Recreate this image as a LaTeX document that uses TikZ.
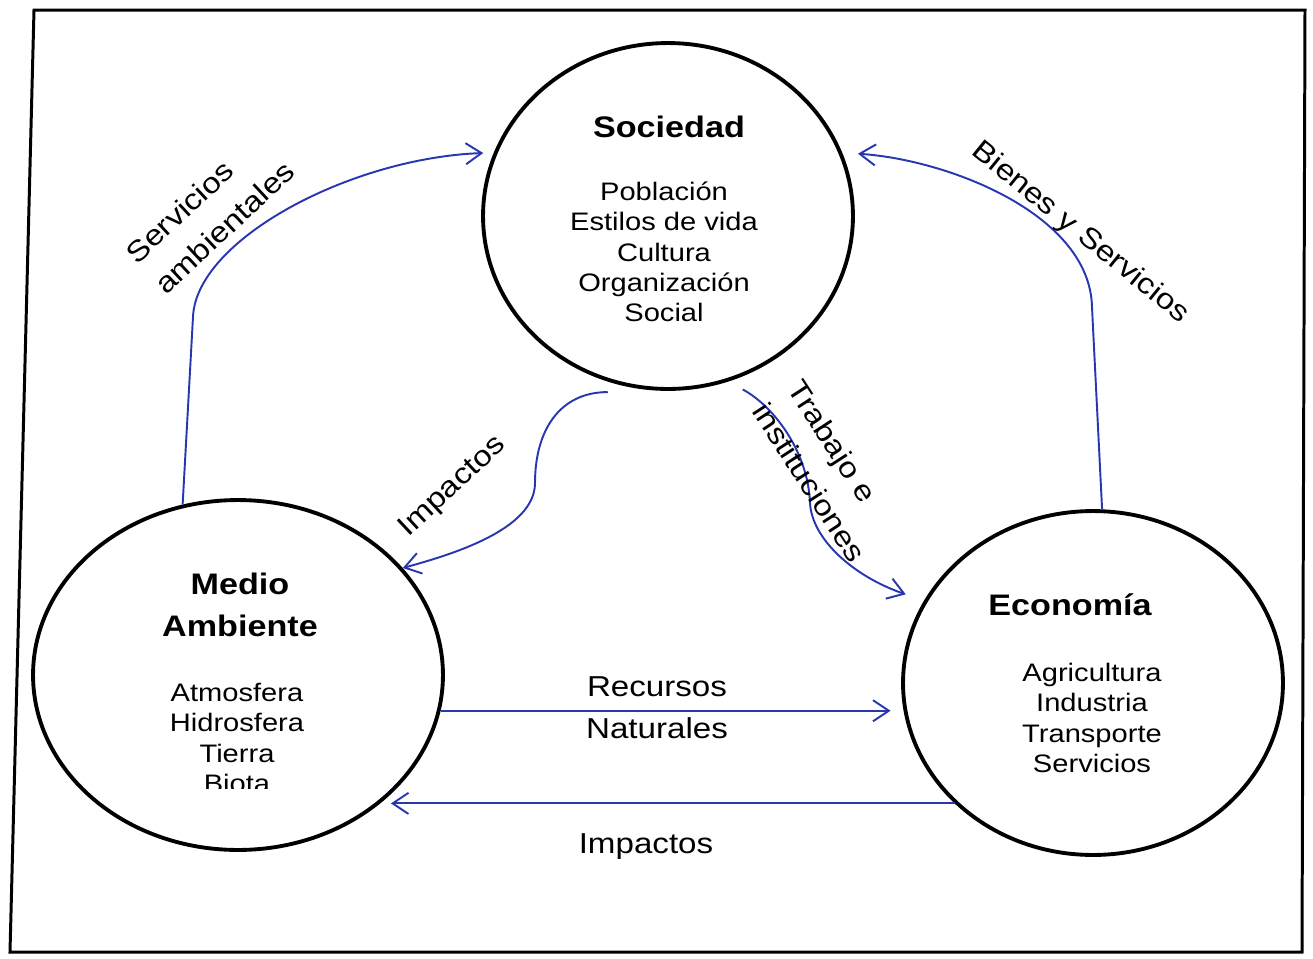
\documentclass[tikz,border=0pt]{standalone}
\usepackage{fontspec}
\setmainfont{Liberation Sans}[FakeStretch=1.15]
\usetikzlibrary{shapes.geometric, arrows.meta}

\definecolor{flujo}{RGB}{40,55,175}

\begin{document}
\begin{tikzpicture}[x=0.02cm, y=-0.02cm,
        esfera/.style={draw, ellipse, line width=2.2pt, inner sep=0pt},
        titulo/.style={font=\fontsize{16.9}{23.8}\selectfont\bfseries, align=center, inner sep=0pt},
        lista/.style={font=\fontsize{14.4}{17.2}\selectfont, align=center, inner sep=0pt},
        etiqueta/.style={font=\fontsize{16.4}{24}\selectfont, inner sep=0pt},
        flecha/.style={draw=flujo, line width=1.1pt, -{Straight Barb[length=9pt, width=12pt]}}]
        \useasboundingbox (0,0) rectangle (1313,958);
        \draw[line width=1.7pt] (34,10) -- (1305,10) -- (1302,952) -- (10,952) -- cycle;

        \node[esfera, minimum width=7.4cm, minimum height=6.92cm] (soc) at (668,216) {};
        \node[esfera, minimum width=8.2cm, minimum height=7cm] (med) at (238,675) {};
        \node[esfera, minimum width=7.6cm, minimum height=6.88cm] (eco) at (1093,683) {};

        \node[titulo, anchor=base] (socT) at (669,137) {Sociedad};
        \node[lista] (socL) at (664,252) {Población\\Estilos de vida\\Cultura\\Organización\\Social};
        \node[titulo] (medT) at (240,605) {Medio\\Ambiente};
        \begin{scope}
            \clip (100,600) rectangle (380,788);
            \node[lista] (medL) at (237,738) {Atmosfera\\Hidrosfera\\Tierra\\Biota};
        \end{scope}
        \node[titulo, anchor=base] (ecoT) at (1070,615) {Economía};
        \node[lista] (ecoL) at (1092,718) {Agricultura\\Industria\\Transporte\\Servicios};

        \coordinate (sa) at (193,317);
        \coordinate (bs) at (1092,307);
        \coordinate (im) at (535,483);
        \coordinate (ti) at (810,503);

        \draw[flecha, shorten >=6pt] (med.108) -- (sa) .. controls (196,240) and (350,158) .. (soc.160);
        \draw[flecha, shorten >=9pt] (eco.87) -- (bs) .. controls (1090,215) and (950,160) .. (soc.20);
        \draw[flecha] ([yshift=-6pt]soc.250) .. controls (560,392) and (535,430) .. (im)
            .. controls (535,530) and (450,555) .. (med.33);
        \draw[flecha, shorten >=11pt] ([yshift=-7.5pt]soc.295) .. controls (772,405) and (808,450) .. (ti)
            .. controls (812,540) and (855,577) .. (eco.154);
        \draw[flecha, shorten >=6pt] (med.350) -- (med.350 -| eco.west);
        \draw[flecha, shorten >=3pt] (eco.221) -- (eco.221 -| med.320);

        \node[etiqueta, align=left, rotate=43] (lblSA) at (210,212) {Servicios\\ambientales};
        \node[etiqueta, rotate=-39] (lblBS) at (1080,233) {Bienes y Servicios};
        \node[etiqueta, rotate=43] (lblIS) at (453,487) {Impactos};
        \node[etiqueta, align=left, rotate=-57] (lblTI) at (827,471) {Trabajo e\\instituciones};
        \node[etiqueta, align=center] (lblRN) at (657,708) {Recursos\\Naturales};
        \node[etiqueta, anchor=base] (lblIE) at (646,853) {Impactos};
    \end{tikzpicture}
\end{document}
